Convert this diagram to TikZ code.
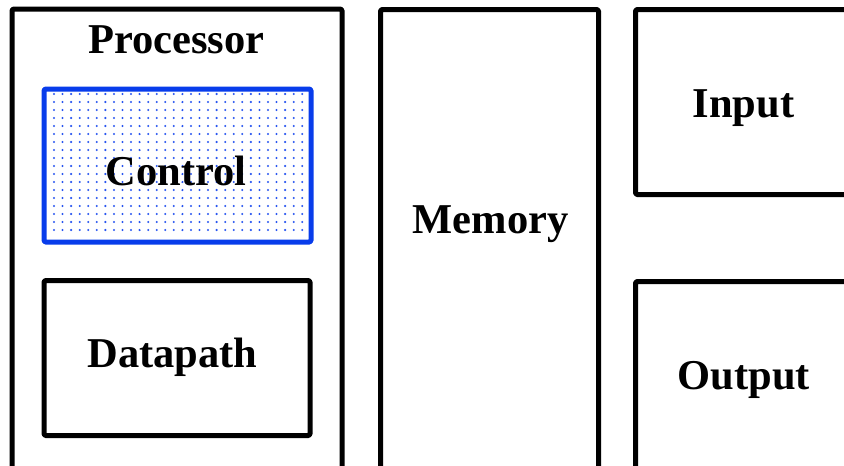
\documentclass[tikz,border=0pt]{standalone}
\usepackage{fontspec}
\setmainfont{Liberation Serif}
\definecolor{ctlblue}{RGB}{8,60,235}
\definecolor{dotblue}{RGB}{40,85,240}
\begin{document}
\begin{tikzpicture}[x=1pt,y=-1pt,
  box/.style={draw=black,line width=5pt,rounded corners=1.5pt,line join=round,inner sep=0pt,outer sep=0pt,anchor=north west},
  lbl/.style={font=\fontsize{42.5}{50}\selectfont\bfseries,anchor=base,inner sep=0pt}]
\useasboundingbox (0,0) rectangle (844,466);
\fill[white] (0,0) rectangle (844,466);
\clip (0,0) rectangle (844,466);
% dots of the control box
\foreach \i in {0,...,29}{
  \foreach \j in {0,...,17}{
    \fill[dotblue] (54+8.56*\i,94+8*\j) circle (1.15);
  }
}
\node[box,minimum width=330pt,minimum height=470pt] (proc) at (12,9) {};
\node[box,draw=ctlblue,minimum width=267pt,minimum height=153pt] (ctrl) at (44,89) {};
\node[box,minimum width=266pt,minimum height=155pt] (dp) at (44,280.5) {};
\node[box,minimum width=218pt,minimum height=470pt] (mem) at (380.5,9.5) {};
\node[box,minimum width=230pt,minimum height=185pt] (in) at (635.5,9.5) {};
\node[box,minimum width=230pt,minimum height=200pt] (out) at (635.5,281.5) {};
\node[lbl] (tproc) at (176.5,53) {Processor};
\node[lbl] (tctrl) at (176,185) {Control};
\node[lbl] (tdp) at (172.6,367) {Datapath};
\node[lbl] (tmem) at (490.5,233) {Memory};
\node[lbl] (tin) at (743.5,117) {Input};
\node[lbl] (tout) at (744,389) {Output};
\end{tikzpicture}
\end{document}
